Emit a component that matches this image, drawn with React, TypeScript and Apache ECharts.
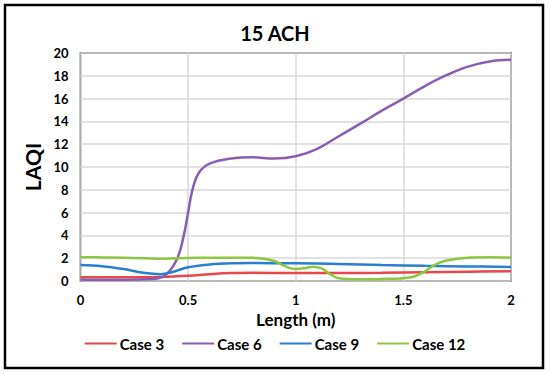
import React, { useEffect, useRef } from "react";
import * as echarts from "echarts";

const case3X = [0, 0.3, 0.4, 0.5, 0.6, 0.7, 0.8, 1.0, 1.2, 1.4, 1.6, 1.8, 2.0];
const case3Y = [0.32, 0.33, 0.38, 0.45, 0.6, 0.7, 0.72, 0.7, 0.7, 0.72, 0.77, 0.82, 0.85];

const case6X = [0, 0.1, 0.2, 0.3, 0.35, 0.4, 0.45, 0.48, 0.5, 0.52, 0.55, 0.6, 0.7, 0.8, 0.9, 1.0, 1.1, 1.2, 1.3, 1.4, 1.5, 1.6, 1.7, 1.8, 1.9, 2.0];
const case6Y = [0.1, 0.1, 0.1, 0.15, 0.2, 0.6, 2.0, 4.0, 6.0, 8.0, 9.5, 10.3, 10.75, 10.85, 10.75, 10.95, 11.6, 12.7, 13.8, 14.95, 16.0, 17.1, 18.05, 18.8, 19.25, 19.4];

const case9X = [0, 0.1, 0.2, 0.3, 0.37, 0.42, 0.5, 0.6, 0.7, 0.8, 1.0, 1.2, 1.4, 1.6, 1.8, 2.0];
const case9Y = [1.4, 1.3, 1.05, 0.7, 0.6, 0.75, 1.2, 1.45, 1.55, 1.57, 1.55, 1.5, 1.4, 1.33, 1.28, 1.23];

const case12X = [0, 0.1, 0.2, 0.3, 0.37, 0.45, 0.55, 0.7, 0.8, 0.85, 0.9, 0.95, 1.0, 1.05, 1.08, 1.12, 1.16, 1.2, 1.3, 1.4, 1.5, 1.55, 1.6, 1.65, 1.7, 1.8, 1.9, 2.0];
const case12Y = [2.08, 2.07, 2.05, 2.0, 1.95, 2.0, 2.03, 2.05, 2.03, 1.95, 1.75, 1.3, 1.05, 1.15, 1.25, 1.1, 0.6, 0.25, 0.15, 0.18, 0.25, 0.4, 0.85, 1.45, 1.8, 2.05, 2.08, 2.05];

const seriesNames = ["Case 3", "Case 6", "Case 9", "Case 12"];
const seriesColors = ["#E8474B", "#8A5DB3", "#2A7FD0", "#8DC63F"];
const xTicks = ["0", "0.5", "1", "1.5", "2"];

const FONT = "Lato, 'Open Sans', sans-serif";

export default function App() {
  const ref = useRef<HTMLDivElement>(null);
  useEffect(() => {
    if (!ref.current) return;
    const chart = echarts.init(ref.current, null, { renderer: "svg" });
    const xs = [case3X, case6X, case9X, case12X];
    const ys = [case3Y, case6Y, case9Y, case12Y];
    chart.setOption({
      animation: false,
      backgroundColor: "#fff",
      textStyle: { fontFamily: FONT },
      title: {
        text: "15 ACH",
        left: "center",
        top: 18,
        textStyle: { fontFamily: FONT, fontWeight: "bold", fontSize: 20, color: "#000" },
      },
      graphic: [
        {
          type: "rect",
          shape: { x: 5, y: 5, width: 538, height: 363 },
          style: { fill: "none", stroke: "#000", lineWidth: 2.5 },
          silent: true,
        },
      ],
      grid: {
        left: 80.5,
        right: 39,
        top: 53,
        bottom: 94,
        show: true,
        borderColor: "#222",
        borderWidth: 1.5,
      },
      legend: {
        bottom: 19,
        left: "center",
        icon: "rect",
        itemWidth: 32,
        itemHeight: 2,
        itemGap: 18,
        data: seriesNames,
        textStyle: { fontFamily: FONT, fontWeight: "bold", fontSize: 15, color: "#000", padding: [0, 0, 0, -2] },
      },
      xAxis: {
        type: "value",
        min: 0,
        max: 2,
        interval: 0.5,
        name: "Length (m)",
        nameLocation: "middle",
        nameGap: 28,
        nameTextStyle: { fontFamily: FONT, fontWeight: "bold", fontSize: 17, color: "#000" },
        axisLine: { show: false },
        axisTick: { show: false },
        axisLabel: {
          fontFamily: FONT,
          fontWeight: "bold",
          fontSize: 13,
          color: "#000",
          margin: 12,
          formatter: (v: number) => xTicks[Math.round(v / 0.5)] ?? String(v),
        },
        splitLine: { show: true, lineStyle: { color: "#d9d9d9", width: 1.5 } },
      },
      yAxis: {
        type: "value",
        min: 0,
        max: 20,
        interval: 2,
        name: "LAQI",
        nameLocation: "middle",
        nameGap: 29,
        nameTextStyle: { fontFamily: FONT, fontWeight: "bold", fontSize: 21, color: "#000" },
        axisLine: { show: false },
        axisTick: { show: false },
        axisLabel: { fontFamily: FONT, fontWeight: "bold", fontSize: 13, color: "#000", margin: 12 },
        splitLine: { show: true, lineStyle: { color: "#d9d9d9", width: 1.5 } },
      },
      series: seriesNames.map((name, i) => ({
        name,
        type: "line",
        smooth: 0.4,
        showSymbol: false,
        symbol: "none",
        color: seriesColors[i],
        lineStyle: { width: 2.5, color: seriesColors[i] },
        data: xs[i].map((x, j) => [x, ys[i][j]]),
      })),
    });
    return () => chart.dispose();
  }, []);
  return (
    <div
      ref={ref}
      style={{ position: "fixed", left: 0, top: 0, width: 550, height: 375 }}
    />
  );
}
